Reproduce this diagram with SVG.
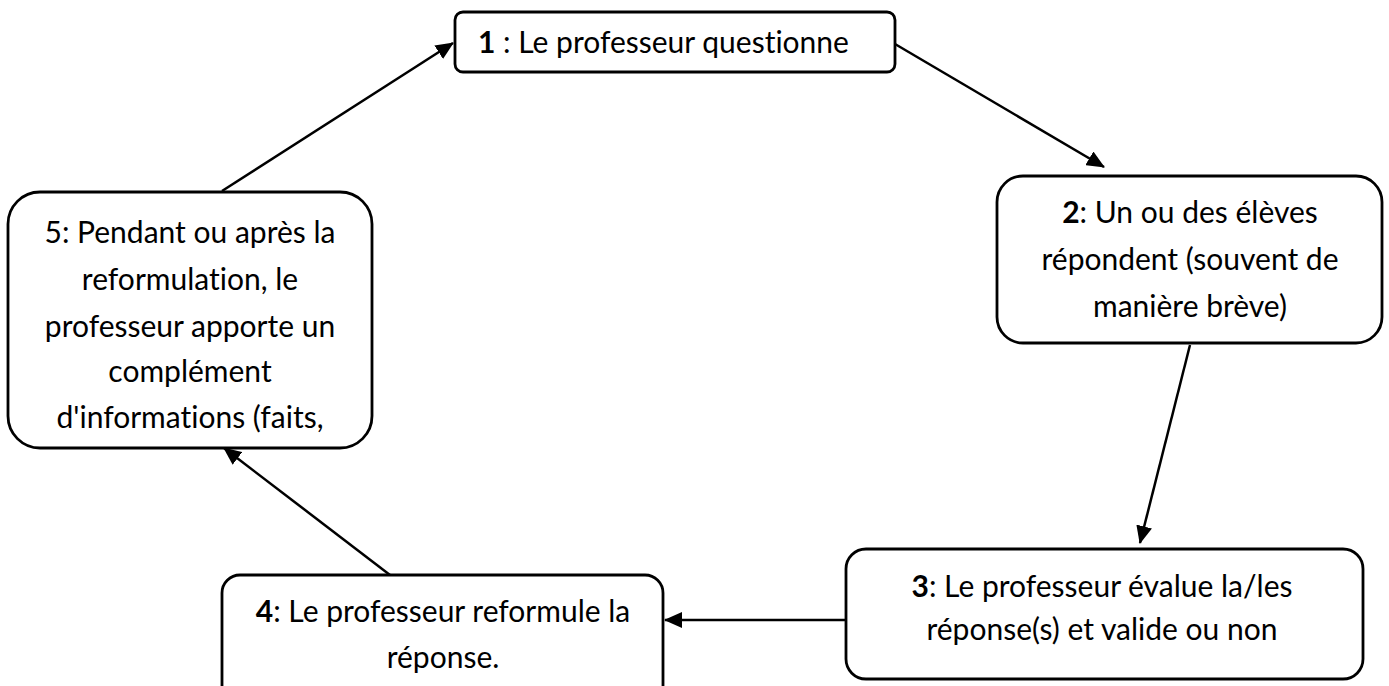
<svg xmlns="http://www.w3.org/2000/svg" width="1389" height="686" viewBox="0 0 1389 686">
<style>
.box{fill:#fff;stroke:#000;stroke-width:2.8}
.t{font-family:Lato,"Liberation Sans",sans-serif;font-size:30px;fill:#000;font-variant-ligatures:none}
.c{text-anchor:middle}
.b{font-weight:bold}
.conn{stroke:#000;stroke-width:2.5;fill:none;marker-end:url(#ah)}
</style>
<defs>
<marker id="ah" markerUnits="userSpaceOnUse" markerWidth="18" markerHeight="16" refX="17" refY="8" orient="auto">
<path d="M0,0 L18,8 L0,16 Z" fill="#000"/>
</marker>
</defs>
<rect width="1389" height="686" fill="#fff"/>
<g id="connectors">
<line class="conn" x1="222" y1="191" x2="453" y2="43"/>
<line class="conn" x1="895" y1="44" x2="1104" y2="167"/>
<line class="conn" x1="1190" y1="345" x2="1140" y2="543"/>
<line class="conn" x1="846" y1="620" x2="665" y2="620"/>
<line class="conn" x1="390" y1="575" x2="224" y2="448"/>
</g>
<g id="node1">
<rect class="box" x="455" y="12" width="440" height="60" rx="8"/>
<text class="t" x="478" y="53"><tspan class="b">1</tspan> : Le professeur questionne</text>
</g>
<g id="node2">
<rect class="box" x="997" y="176" width="385" height="167" rx="26"/>
<text class="t c" x="1190" y="223"><tspan class="b">2</tspan>: Un ou des élèves</text>
<text class="t c" x="1190" y="270">répondent (souvent de</text>
<text class="t c" x="1190" y="317">manière brève)</text>
</g>
<g id="node3">
<rect class="box" x="846" y="549" width="517" height="130" rx="20"/>
<text class="t c" x="1102" y="597"><tspan class="b">3</tspan>: Le professeur évalue la/les</text>
<text class="t c" x="1102" y="640">réponse(s) et valide ou non</text>
</g>
<g id="node4">
<rect class="box" x="222" y="575" width="441" height="130" rx="18"/>
<text class="t c" x="443" y="622"><tspan class="b">4</tspan>: Le professeur reformule la</text>
<text class="t c" x="443" y="668">réponse.</text>
</g>
<g id="node5">
<rect class="box" x="8" y="192" width="364" height="256" rx="32"/>
<text class="t c" x="190" y="243">5: Pendant ou après la</text>
<text class="t c" x="190" y="290">reformulation, le</text>
<text class="t c" x="190" y="337">professeur apporte un</text>
<text class="t c" x="190" y="382">complément</text>
<text class="t c" x="190" y="428">d'informations (faits,</text>
</g>
</svg>
